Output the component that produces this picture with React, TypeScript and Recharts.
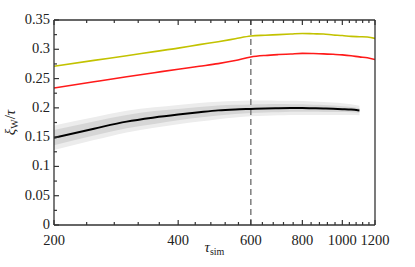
import React from "react";
import { ComposedChart, Line, Area, XAxis, YAxis, ReferenceLine, Label } from "recharts";

// simulation time (x, log axis)
const tauSim = [200, 250, 300, 350, 400, 450, 500, 550, 600, 650, 700, 750, 800, 850, 900, 950, 1000, 1050, 1100, 1150, 1200];

// olive line (top)
const yellowLine = [0.271, 0.281, 0.289, 0.296, 0.302, 0.308, 0.313, 0.318, 0.3226, 0.324, 0.325, 0.326, 0.327, 0.3265, 0.326, 0.3245, 0.3235, 0.322, 0.3215, 0.321, 0.3186];
// red line
const redLine = [0.234, 0.2445, 0.253, 0.26, 0.266, 0.271, 0.2755, 0.2808, 0.2868, 0.2895, 0.291, 0.292, 0.293, 0.2927, 0.2922, 0.2914, 0.2905, 0.289, 0.287, 0.2855, 0.2826];
// black mean line (stops at 1100)
const blackLine = [0.149, 0.1645, 0.1765, 0.1835, 0.1885, 0.1925, 0.1957, 0.1973, 0.1982, 0.199, 0.1995, 0.1997, 0.1997, 0.1993, 0.199, 0.1985, 0.1978, 0.197, 0.1955];
// shaded bands around the black line
const outerLow = [0.128, 0.145, 0.158, 0.166, 0.172, 0.1765, 0.1805, 0.1835, 0.1855, 0.1865, 0.1873, 0.188, 0.1878, 0.1878, 0.188, 0.188, 0.1878, 0.188, 0.1875];
const outerHigh = [0.17, 0.184, 0.195, 0.201, 0.205, 0.2085, 0.2105, 0.2115, 0.2125, 0.2125, 0.2123, 0.212, 0.2118, 0.2108, 0.21, 0.209, 0.2078, 0.206, 0.2035];
const innerLow = [0.136, 0.1528, 0.165, 0.1725, 0.179, 0.1835, 0.187, 0.1895, 0.1912, 0.1922, 0.1926, 0.1933, 0.1933, 0.1933, 0.193, 0.193, 0.1928, 0.1925, 0.1915];
const innerHigh = [0.162, 0.1768, 0.188, 0.1945, 0.198, 0.2015, 0.204, 0.2052, 0.2058, 0.206, 0.2064, 0.2063, 0.2062, 0.2053, 0.205, 0.204, 0.2028, 0.2015, 0.1995];

const xMajor = [200, 400, 600, 800, 1000, 1200];
const xTicks = [200, 240, 280, 320, 360, 400, 440, 480, 520, 560, 600, 640, 680, 720, 760, 800, 840, 880, 920, 960, 1000, 1040, 1080, 1120, 1160, 1200];
const yMajor = [0, 0.05, 0.1, 0.15, 0.2, 0.25, 0.3, 0.35];
const yTicks = [0, 0.025, 0.05, 0.075, 0.1, 0.125, 0.15, 0.175, 0.2, 0.225, 0.25, 0.275, 0.3, 0.325, 0.35];

const data = tauSim.map((t, i) => ({
  tau: t,
  yellow: yellowLine[i],
  red: redLine[i],
  black: blackLine[i],
  outer: outerLow[i] != null ? [outerLow[i], outerHigh[i]] : undefined,
  inner: innerLow[i] != null ? [innerLow[i], innerHigh[i]] : undefined,
}));

const FONT = "'Liberation Serif', 'DejaVu Serif', serif";
const AX = "#333";

const isMajor = (list: number[], v: number) => list.some((m) => Math.abs(m - v) < 1e-9);

const BottomTick = (p: any) => {
  const major = isMajor(xMajor, p.payload.value);
  return (
    <g>
      <line x1={p.x} x2={p.x} y1={p.y} y2={p.y - (major ? 5 : 3)} stroke={AX} strokeWidth={1.2} />
      {major && (
        <text x={p.x} y={p.y + 19.5} textAnchor="middle" fontFamily={FONT} fontSize={14.5} fill="#222">
          {p.payload.value}
        </text>
      )}
    </g>
  );
};

const TopTick = (p: any) => {
  const major = isMajor(xMajor, p.payload.value);
  return <line x1={p.x} x2={p.x} y1={p.y} y2={p.y + (major ? 5 : 3)} stroke={AX} strokeWidth={1.2} />;
};

const LeftTick = (p: any) => {
  const major = isMajor(yMajor, p.payload.value);
  return (
    <g>
      <line x1={p.x} x2={p.x + (major ? 5 : 3)} y1={p.y} y2={p.y} stroke={AX} strokeWidth={1.2} />
      {major && (
        <text x={p.x - 4} y={p.y + 4} textAnchor="end" fontFamily={FONT} fontSize={14.5} fill="#222">
          {String(p.payload.value)}
        </text>
      )}
    </g>
  );
};

const RightTick = (p: any) => {
  const major = isMajor(yMajor, p.payload.value);
  return <line x1={p.x} x2={p.x - (major ? 5 : 3)} y1={p.y} y2={p.y} stroke={AX} strokeWidth={1.2} />;
};

const YTitle = (props: any) => {
  const vb = props.viewBox || { x: 0, y: 20, width: 54, height: 205 };
  const cx = 15;
  const cy = vb.y + vb.height / 2;
  return (
    <text transform={`translate(${cx},${cy}) rotate(-90)`} textAnchor="middle" fontFamily={FONT} fontSize={15} fill="#222">
      <tspan fontStyle="italic">ξ</tspan>
      <tspan fontSize={10} dy={3}>W</tspan>
      <tspan dy={-3}>/</tspan>
      <tspan fontStyle="italic">τ</tspan>
    </text>
  );
};

const XTitle = (props: any) => {
  const vb = props.viewBox || { x: 54, y: 225, width: 321, height: 42 };
  const cx = vb.x + vb.width / 2;
  return (
    <text x={cx} y={252} textAnchor="middle" fontFamily={FONT} fontSize={15} fill="#222">
      <tspan fontStyle="italic">τ</tspan>
      <tspan fontSize={10} dy={3}>sim</tspan>
    </text>
  );
};

export default function App() {
  return (
    <div style={{ position: "absolute", left: 0, top: 0, width: 415, height: 267, background: "#fff" }}>
      <ComposedChart width={415} height={267} data={data} margin={{ top: 19, right: 39, bottom: 0, left: 0 }}>
        <XAxis
          dataKey="tau"
          type="number"
          scale="log"
          domain={[200, 1200]}
          allowDataOverflow
          ticks={xTicks}
          interval={0}
          tickSize={0}
          tickMargin={0}
          tick={<BottomTick />}
          axisLine={{ stroke: AX, strokeWidth: 1.3 }}
          height={42}
        >
          <Label content={<XTitle />} />
        </XAxis>
        <XAxis
          xAxisId="top"
          orientation="top"
          dataKey="tau"
          type="number"
          scale="log"
          domain={[200, 1200]}
          allowDataOverflow
          ticks={xTicks}
          interval={0}
          tickSize={0}
          tickMargin={0}
          tick={<TopTick />}
          axisLine={{ stroke: AX, strokeWidth: 1.3 }}
          height={1}
        />
        <YAxis
          type="number"
          domain={[0, 0.35]}
          ticks={yTicks}
          interval={0}
          tickSize={0}
          tickMargin={0}
          tick={<LeftTick />}
          axisLine={{ stroke: AX, strokeWidth: 1.3 }}
          width={54}
        >
          <Label content={<YTitle />} />
        </YAxis>
        <YAxis
          yAxisId="right"
          orientation="right"
          type="number"
          domain={[0, 0.35]}
          ticks={yTicks}
          interval={0}
          tickSize={0}
          tickMargin={0}
          tick={<RightTick />}
          axisLine={{ stroke: AX, strokeWidth: 1.3 }}
          width={1}
        />
        <Area dataKey="outer" type="monotone" stroke="none" fill="#ececec" fillOpacity={1} isAnimationActive={false} connectNulls={false} />
        <Area dataKey="inner" type="monotone" stroke="none" fill="#d6d6d6" fillOpacity={1} isAnimationActive={false} connectNulls={false} />
        <ReferenceLine x={600} stroke="#7d7d7d" strokeWidth={1.5} strokeDasharray="6 4" />
        <Line dataKey="black" type="monotone" stroke="#000" strokeWidth={2} dot={false} isAnimationActive={false} />
        <Line dataKey="red" type="monotone" stroke="#ff1a1a" strokeWidth={1.6} dot={false} isAnimationActive={false} />
        <Line dataKey="yellow" type="monotone" stroke="#c2c200" strokeWidth={1.6} dot={false} isAnimationActive={false} />
      </ComposedChart>
    </div>
  );
}
